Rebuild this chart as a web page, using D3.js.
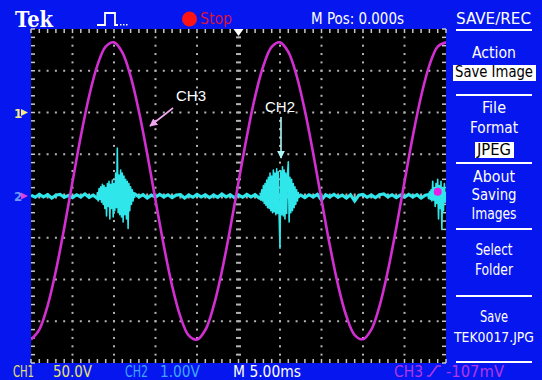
<!DOCTYPE html>
<html>
<head>
<meta charset="utf-8">
<script src="https://cdn.jsdelivr.net/npm/d3@7"></script>
<style>
  html, body { margin: 0; padding: 0; background: #0616ee; overflow: hidden; }
  svg { display: block; }
</style>
</head>
<body>
<div id="scope"></div>
<script>
// ── Data ──────────────────────────────────────────────────────
// horizontal: 5.00 ms/div, 10 divs, trigger at centre (M Pos 0.000s)
var timeDivs = [-25, -20, -15, -10, -5, 0, 5, 10, 15, 20, 25];
// vertical: 8 divs
var voltDivs = [-4, -3, -2, -1, 0, 1, 2, 3, 4];

// CH3 (magenta) in divisions, one sample per ms from -25 ms
var ch3Start = -25, ch3Step = 1;
var ch3Values = [-3.44, -3.20, -2.63, -1.79, -0.77, 0.34, 1.43, 2.39, 3.13, 3.58,
                  3.68,  3.44,  2.87,  2.03,  1.01, -0.10, -1.19, -2.15, -2.89, -3.34,
                 -3.44, -3.21, -2.64, -1.80, -0.78, 0.33, 1.42, 2.38, 3.12, 3.57,
                  3.68,  3.45,  2.88,  2.04,  1.02, -0.09, -1.18, -2.14, -2.88, -3.33,
                 -3.43, -3.20, -2.63, -1.79, -0.77, 0.34, 1.43, 2.39, 3.13, 3.58, 3.68];

// CH2 (cyan) 1.00 V/div: baseline, one sample per 0.5 ms from -25 ms
var ch2BaseStart = -25, ch2BaseStep = 0.5;
var ch2Base = [0.02, -0.03, 0.04, -0.02, 0.03, -0.05, 0.02, 0.04, -0.03, 0.01,
               -0.04, 0.03, -0.02, 0.05, -0.03, 0.02, -0.06, 0.03, 0.01, -0.02,
               0.04, -0.03, 0.02, -0.04, 0.03, 0.05, -0.02, 0.03, -0.05, 0.02,
               -0.03, 0.04, -0.02, 0.03, -0.04, 0.02, 0.03, -0.05, 0.02, -0.03,
               0.04, -0.02, 0.03, -0.04, 0.02, -0.03, 0.05, -0.02, 0.03, -0.04,
               0.02, -0.03, 0.04, -0.02, 0.03, -0.05, 0.02, 0.03, -0.04, 0.02,
               -0.03, 0.04, -0.02, 0.05, -0.03, 0.02, -0.04, 0.03, -0.02, 0.04,
               -0.10, 0.03, -0.02, 0.04, -0.03, 0.02, -0.05, 0.03, -0.12, 0.02,
               0.04, -0.03, 0.02, -0.04, 0.03, 0.05, -0.02, 0.03, -0.04, 0.02,
               -0.03, 0.04, -0.02, 0.03, -0.05, 0.02, 0.04, -0.03, 0.02, -0.04,
               0.03];

// CH2 bursts, one sample per 0.1 ms
var burstStep = 0.1;
var burst1Start = -17.0;
var burst1 = [0.10, -0.12, 0.18, -0.08, 0.22, -0.15, 0.28, -0.20, 0.25, -0.30,
              0.20, -0.48, 0.30, -0.25, 0.35, -0.55, 0.28, -0.30, 0.38, -0.50,
              0.30, -0.35, 0.55, -0.28, 1.15, -0.40, 0.50, -0.45, 0.62, -0.50,
              0.55, -0.62, 0.48, -0.45, 0.40, -0.55, 0.35, -0.78, 0.30, -0.35,
              0.22, -0.20, 0.15, -0.12, 0.08, -0.05];
var burst2Start = 2.6;
var burst2 = [0.08, -0.10, 0.15, -0.12, 0.25, -0.18, 0.30, -0.22, 0.38, -0.28,
              0.45, -0.30, 0.55, -0.35, 0.48, -0.40, 0.62, -0.38, 0.55, -0.45,
              0.65, -0.42, 0.58, -0.50, -1.25, 0.60, -0.45, 0.70, -0.48, 0.62,
             -0.55, 0.55, -0.42, 0.50, 0.82, -0.62, 0.45, -0.40, 0.40, -0.35,
              0.30, -0.28, 0.22, -0.20, 0.15, -0.12, 0.08, -0.05];
var burst3Start = 22.8;
var burst3 = [0.05, -0.06, 0.10, -0.08, 0.15, -0.12, 0.35, -0.10, 0.20, -0.25,
              0.30, -0.18, 0.40, -0.55, 0.25, -0.30, 0.35, -0.80, 0.20, -0.35,
              0.30, -0.15, 0.10];
var ch3Dot = [{ t: 24.0, v: 0.10 }];

// ── Screen texts ──────────────────────────────────────────────
var menuItems = [
  { text: 'Action',      y: 58,  w: 44 },
  { text: 'Save Image',  y: 77,  w: 78, box: [453, 65, 83, 16] },
  { text: 'File',        y: 113, w: 24 },
  { text: 'Format',      y: 133, w: 48 },
  { text: 'JPEG',        y: 155, w: 34, box: [475, 142, 39, 16] },
  { text: 'About',       y: 182, w: 42 },
  { text: 'Saving',      y: 200, w: 45 },
  { text: 'Images',      y: 219, w: 45 },
  { text: 'Select',      y: 255, w: 37 },
  { text: 'Folder',      y: 275, w: 38 },
  { text: 'Save',        y: 322, w: 28 },
  { text: 'TEK0017.JPG', y: 342, w: 80, size: 13.5 }
];
var menuRules = [30, 95, 163, 229, 296, 362];

var bottomLabels = [
  { text: 'CH1',    x: 13,  w: 21, color: '#e6e070' },
  { text: '50.0V',  x: 53,  w: 39, color: '#e6e070' },
  { text: 'CH2',    x: 125, w: 23, color: '#3fa6ff' },
  { text: '1.00V',  x: 160, w: 40, color: '#3fa6ff' },
  { text: 'M 5.00ms', x: 233, w: 68, color: '#ffffff' },
  { text: 'CH3',    x: 394, w: 29, color: '#b236e6' },
  { text: '-107mV', x: 446, w: 58, color: '#b236e6' }
];

// ── Layout ────────────────────────────────────────────────────
var W = 542, H = 380;
var BLUE = '#0616ee';
var CH3_COLOR = '#d22fd2';
var CH2_COLOR = '#2fe6ea';
var UI_FONT = '"DejaVu Sans Condensed", "Liberation Sans Narrow", sans-serif';

var svg = d3.select('#scope').append('svg')
  .attr('width', W).attr('height', H);

svg.append('rect').attr('width', W).attr('height', H).attr('fill', BLUE);

var x = d3.scaleLinear().domain([-25, 25]).range([31, 446]);
var y = d3.scaleLinear().domain([-4, 4]).range([363, 29]);

var defs = svg.append('defs');
defs.append('clipPath').attr('id', 'screen-clip')
  .append('rect')
  .attr('x', x(-25)).attr('y', y(4))
  .attr('width', x(25) - x(-25)).attr('height', y(-4) - y(4));

function makeArrow(id, color) {
  defs.append('marker')
    .attr('id', id)
    .attr('viewBox', '0 0 10 10')
    .attr('refX', 9).attr('refY', 5)
    .attr('markerWidth', 5).attr('markerHeight', 5)
    .attr('orient', 'auto')
    .append('path')
    .attr('d', 'M 0 0 L 10 5 L 0 10 z')
    .attr('fill', color);
}
makeArrow('arrow-ch3', '#f2a6ee');
makeArrow('arrow-ch2', '#aef6f6');

// ── Screen + graticule ────────────────────────────────────────
svg.append('rect')
  .attr('x', x(-25)).attr('y', y(4))
  .attr('width', x(25) - x(-25)).attr('height', y(-4) - y(4))
  .attr('fill', '#000');

var grid = svg.append('g').attr('fill', '#b4b4b4');
var minorT = d3.range(-25, 25.001, 1);
var minorV = d3.range(-4, 4.001, 0.2);

timeDivs.slice(1, -1).forEach(function(t) {
  var wide = (t === 0);
  grid.selectAll(null).data(minorV.slice(1, -1)).enter().append('rect')
    .attr('x', x(t) - (wide ? 2.5 : 1))
    .attr('y', function(v) { return y(v) - 1; })
    .attr('width', wide ? 5 : 2).attr('height', 2);
});
voltDivs.slice(1, -1).forEach(function(v) {
  var tall = (v === 0);
  grid.selectAll(null).data(minorT.slice(1, -1)).enter().append('rect')
    .attr('x', function(t) { return x(t) - 1; })
    .attr('y', y(v) - (tall ? 2.5 : 1))
    .attr('width', 2).attr('height', tall ? 5 : 2);
});

// edge ticks
var edge = svg.append('g').attr('fill', '#c8c8c8');
edge.selectAll('.tt').data(minorT).enter().append('rect')
  .attr('x', function(t) { return x(t) - 0.75; }).attr('y', y(4))
  .attr('width', 1.5).attr('height', 4);
edge.selectAll('.tb').data(minorT).enter().append('rect')
  .attr('x', function(t) { return x(t) - 0.75; }).attr('y', y(-4) - 4)
  .attr('width', 1.5).attr('height', 4);
edge.selectAll('.tl').data(minorV).enter().append('rect')
  .attr('x', x(-25)).attr('y', function(v) { return y(v) - 0.75; })
  .attr('width', 4).attr('height', 1.5);
edge.selectAll('.tr').data(minorV).enter().append('rect')
  .attr('x', x(25) - 4).attr('y', function(v) { return y(v) - 0.75; })
  .attr('width', 4).attr('height', 1.5);

// ── Traces ────────────────────────────────────────────────────
var traces = svg.append('g').attr('clip-path', 'url(#screen-clip)');

function series(start, step, values) {
  return values.map(function(v, i) { return { t: start + i * step, v: v }; });
}

var smooth = d3.line()
  .x(function(d) { return x(d.t); })
  .y(function(d) { return y(d.v); })
  .curve(d3.curveCatmullRom);
var jagged = d3.line()
  .x(function(d) { return x(d.t); })
  .y(function(d) { return y(d.v); });

traces.append('path')
  .datum(series(ch2BaseStart, ch2BaseStep, ch2Base))
  .attr('d', jagged)
  .attr('fill', 'none').attr('stroke', CH2_COLOR)
  .attr('stroke-width', 3.2);

[[burst1Start, burst1], [burst2Start, burst2], [burst3Start, burst3]].forEach(function(b) {
  traces.append('path')
    .datum(series(b[0], burstStep, b[1]))
    .attr('d', jagged)
    .attr('fill', 'none').attr('stroke', CH2_COLOR)
    .attr('stroke-width', 1.6).attr('stroke-linejoin', 'round');
});

traces.selectAll('.dot').data(ch3Dot).enter().append('circle')
  .attr('cx', function(d) { return x(d.t); })
  .attr('cy', function(d) { return y(d.v); })
  .attr('r', 4).attr('fill', '#e81ee8');

traces.append('path')
  .datum(series(ch3Start, ch3Step, ch3Values))
  .attr('d', smooth)
  .attr('fill', 'none').attr('stroke', CH3_COLOR)
  .attr('stroke-width', 2.6);

// trigger position marker
svg.append('path')
  .attr('d', 'M' + (x(0) - 5) + ',' + y(4) + ' L' + (x(0) + 5) + ',' + y(4) +
             ' L' + x(0) + ',' + (y(4) + 7) + ' Z')
  .attr('fill', '#fff');

// channel ground markers
function groundMarker(v, digit, textColor, arrowColor) {
  svg.append('text')
    .attr('x', 14).attr('y', y(v) + 5)
    .attr('font-family', UI_FONT).attr('font-size', 13).attr('font-weight', 'bold')
    .attr('fill', textColor).text(digit);
  svg.append('path')
    .attr('d', 'M21,' + (y(v) - 3.5) + ' L28,' + y(v) + ' L21,' + (y(v) + 3.5) + ' Z')
    .attr('fill', arrowColor);
}
groundMarker(2, '1', '#f2ee8a', '#f2ee8a');
groundMarker(0, '2', '#6a9cff', '#e040e0');

// ── Annotations ───────────────────────────────────────────────
svg.append('text')
  .attr('x', 176).attr('y', 101)
  .attr('font-family', '"Liberation Sans", Arial, sans-serif').attr('font-size', 15)
  .attr('fill', '#fff').text('CH3');
svg.append('line')
  .attr('x1', 173).attr('y1', 108).attr('x2', 150).attr('y2', 126)
  .attr('stroke', '#f2a6ee').attr('stroke-width', 1.6)
  .attr('marker-end', 'url(#arrow-ch3)');

svg.append('text')
  .attr('x', 265).attr('y', 112)
  .attr('font-family', '"Liberation Sans", Arial, sans-serif').attr('font-size', 15)
  .attr('fill', '#fff').text('CH2');
svg.append('line')
  .attr('x1', 281).attr('y1', 117).attr('x2', 281).attr('y2', 158)
  .attr('stroke', '#aef6f6').attr('stroke-width', 1.6)
  .attr('marker-end', 'url(#arrow-ch2)');

// ── Status bar (top) ──────────────────────────────────────────
function label(px, py, str, w, opts) {
  opts = opts || {};
  return svg.append('text')
    .attr('x', px).attr('y', py)
    .attr('font-family', opts.family || UI_FONT)
    .attr('font-size', opts.size || 16)
    .attr('font-weight', opts.weight || 'normal')
    .attr('text-anchor', opts.anchor || 'start')
    .attr('fill', opts.color || '#fff')
    .attr('textLength', w).attr('lengthAdjust', 'spacingAndGlyphs')
    .text(str);
}

label(15, 27, 'Tek', 38, { family: '"DejaVu Serif", serif', size: 23, weight: 'bold' });

svg.append('polyline')
  .attr('points', '97,25 105,25 105,13 115,13 115,25 118,25')
  .attr('fill', 'none').attr('stroke', '#fff').attr('stroke-width', 1.8);
svg.selectAll('.pdot').data([120, 123, 126]).enter().append('rect')
  .attr('x', function(d) { return d; }).attr('y', 24)
  .attr('width', 1.5).attr('height', 1.5).attr('fill', '#fff');

svg.append('circle').attr('cx', 189.5).attr('cy', 19).attr('r', 7.5).attr('fill', '#ff1414');
label(200, 24, 'Stop', 32, { color: '#d8143c' });
label(311, 24, 'M Pos: 0.000s', 93);
label(456, 24, 'SAVE/REC', 75);

// ── Side menu ─────────────────────────────────────────────────
svg.selectAll('.rule').data(menuRules).enter().append('rect')
  .attr('x', 456).attr('y', function(d) { return d - 1; })
  .attr('width', 76).attr('height', 2).attr('fill', '#fff');

menuItems.forEach(function(m) {
  if (m.box) {
    svg.append('rect')
      .attr('x', m.box[0]).attr('y', m.box[1])
      .attr('width', m.box[2]).attr('height', m.box[3])
      .attr('fill', '#fff');
  }
  label(494, m.y, m.text, m.w, { anchor: 'middle', size: m.size, color: m.box ? '#000' : '#fff' });
});

// ── Readout (bottom) ──────────────────────────────────────────
bottomLabels.forEach(function(b) {
  label(b.x, 377, b.text, b.w, { color: b.color });
});
svg.append('polyline')
  .attr('points', '427,376 430,376 437,366 441,366')
  .attr('fill', 'none').attr('stroke', '#b236e6').attr('stroke-width', 1.6);
</script>
</body>
</html>
